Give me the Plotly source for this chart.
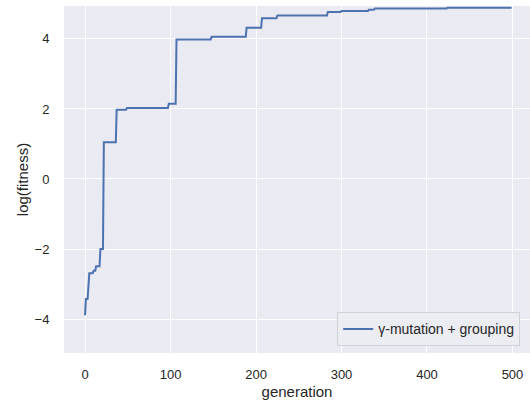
import plotly.graph_objects as go

# Step-curve vertices (generation, log fitness)
generation = [0, 1, 3, 5, 9, 10, 12, 13, 17, 18, 21, 22, 36, 37, 48, 49, 97, 98, 106, 107,
              147, 148, 188, 189, 206, 207, 224, 225, 283, 284, 299, 300, 331, 332, 338, 339,
              423, 424, 499]
log_fitness = [-3.89, -3.43, -3.43, -2.69, -2.69, -2.62, -2.62, -2.49, -2.49, -2.0, -2.0, 1.05,
               1.05, 1.98, 1.98, 2.03, 2.03, 2.15, 2.15, 3.98,
               3.98, 4.06, 4.06, 4.32, 4.32, 4.59, 4.59, 4.67, 4.67, 4.77, 4.77, 4.80, 4.80, 4.83,
               4.83, 4.87, 4.87, 4.89, 4.89]
series_name = "γ-mutation + grouping"
x_ticks = [0, 100, 200, 300, 400, 500]
y_ticks = [-4, -2, 0, 2, 4]

FONT = "Liberation Sans, Arial, sans-serif"
TXT = "#262626"

fig = go.Figure()
fig.add_trace(go.Scatter(x=generation, y=log_fitness, mode="lines", name=series_name,
                         line=dict(color="#4c72b0", width=2)))

fig.update_layout(
    width=530, height=403,
    margin=dict(l=64, r=0, t=6, b=50),
    paper_bgcolor="white", plot_bgcolor="#eaeaf2",
    font=dict(family=FONT, size=13, color=TXT),
    showlegend=True,
    legend=dict(x=0.979, y=0.019, xanchor="right", yanchor="bottom",
                bgcolor="rgba(236,236,243,0.9)", bordercolor="#d0d0d8", borderwidth=1,
                font=dict(family=FONT, size=14, color=TXT)),
    xaxis=dict(range=[-24.6, 520.5], tickvals=x_ticks, showgrid=True, gridcolor="white",
               gridwidth=1, zeroline=False, showline=False, ticks="outside", ticklen=9,
               tickcolor="rgba(0,0,0,0)", tickfont=dict(size=13),
               title=dict(text="generation", standoff=5, font=dict(size=15))),
    yaxis=dict(range=[-4.97, 4.94], tickvals=y_ticks, showgrid=True, gridcolor="white",
               gridwidth=1, zeroline=False, showline=False, ticks="outside", ticklen=11,
               tickcolor="rgba(0,0,0,0)", tickfont=dict(size=13),
               title=dict(text="log(fitness)", standoff=2, font=dict(size=15))),
)

fig.write_html("out.html")
